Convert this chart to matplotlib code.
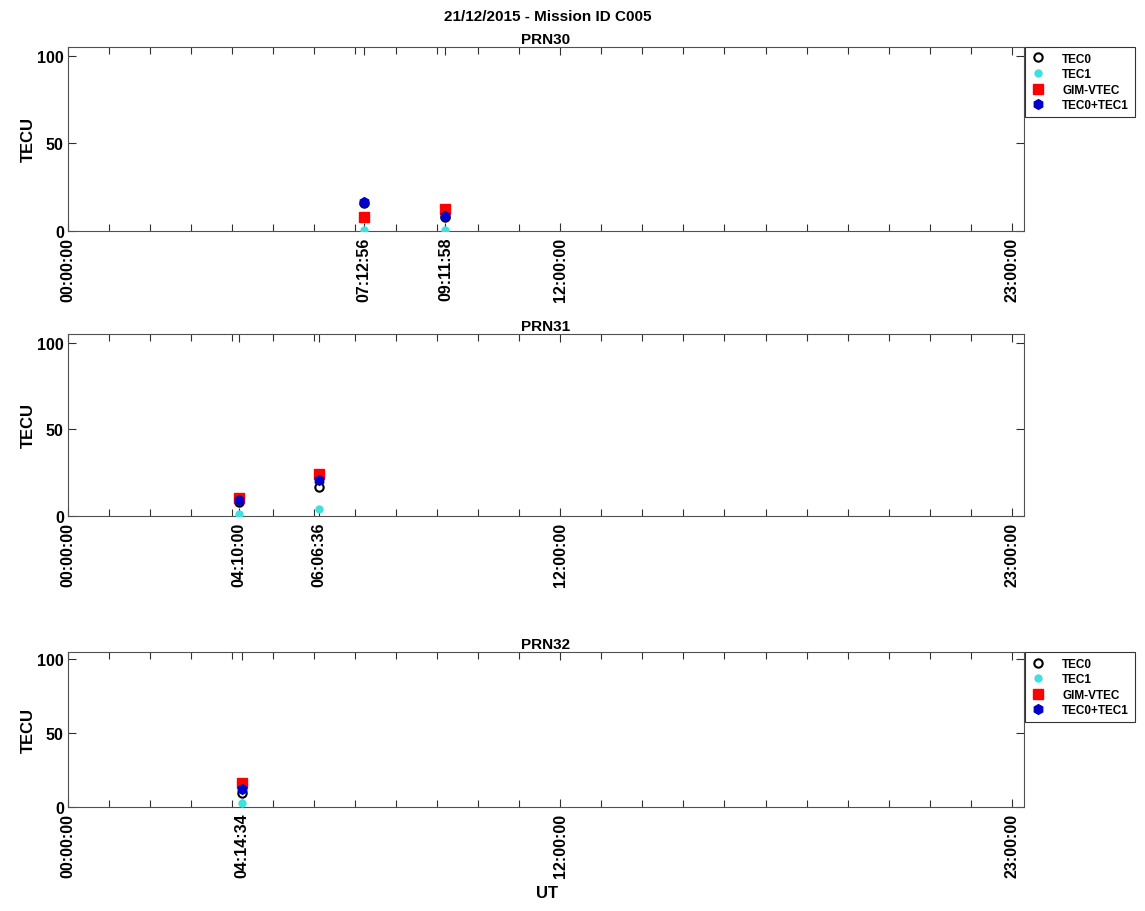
import matplotlib
matplotlib.use("Agg")
import matplotlib.pyplot as plt
from matplotlib.ticker import FixedLocator

plt.rcParams['font.family'] = ['Liberation Sans', 'DejaVu Sans']
plt.rcParams['font.weight'] = 'bold'

# Data (hours UT as "HH:MM:SS")
prn_names = ["PRN30", "PRN31", "PRN32"]
times = [["07:12:56", "09:11:58"], ["04:10:00", "06:06:36"], ["04:14:34"]]
tec0 = [[16, 8], [8, 17], [9.5]]
tec1 = [[0.5, 0.5], [1, 4], [2.5]]
gim_vtec = [[8, 12.5], [10.5, 24], [16]]
tec_sum = [[16.5, 8.5], [9, 21], [12]]
fixed_labels = ["00:00:00", "12:00:00", "23:00:00"]
legend_panels = [0, 2]


def to_h(s):
    h, m, sec = [int(v) for v in s.split(":")]
    return h + m / 60 + sec / 3600


fig = plt.figure(figsize=(11.45, 9.12), dpi=100)
L = 68 / 1145
W = (1024 - 68) / 1145
rects = [(232, 48), (517, 335), (808, 653)]

for i, (bot, top) in enumerate(rects):
    ax = fig.add_axes([L, 1 - bot / 912, W, (bot - top) / 912])
    x = [to_h(t) for t in times[i]]
    ax.plot(x, tec0[i], 'o', mfc='none', mec='black', mew=1.5, ms=6, label='TEC0', zorder=3)
    ax.plot(x, tec1[i], 'o', color='#40e0e0', ms=5, label='TEC1', zorder=3)
    ax.plot(x, gim_vtec[i], 's', color='#ff0000', ms=7, label='GIM-VTEC', zorder=4)
    ax.plot(x, tec_sum[i], 'h', color='#0000c8', ms=7, label='TEC0+TEC1', zorder=5)
    ax.set_xlim(0, 23.3)
    ax.set_ylim(0, 105)
    labs = sorted(fixed_labels + times[i], key=to_h)
    ax.set_xticks([to_h(t) for t in labs])
    ax.set_xticklabels(labs, rotation=90, fontsize=11.5, fontweight='bold')
    ax.xaxis.set_minor_locator(FixedLocator(list(range(0, 24))))
    ax.set_yticks([0, 50, 100])
    ax.set_yticklabels(['0', '50', '100'], fontsize=11.5, fontweight='bold')
    ax.tick_params(axis='both', which='both', direction='in', top=True, right=True,
                   color='#303030', width=0.8)
    ax.tick_params(axis='x', which='major', length=6, pad=4)
    ax.tick_params(axis='x', which='minor', length=5)
    ax.tick_params(axis='y', length=6, pad=3)
    for s in ax.spines.values():
        s.set_color('#505050')
        s.set_linewidth(0.8)
    ax.set_ylabel('TECU', fontsize=12, fontweight='bold', labelpad=1)
    ax.set_title(prn_names[i], fontsize=11, fontweight='bold', pad=3)
    if i in legend_panels:
        leg = ax.legend(loc='upper left', bbox_to_anchor=(1.0, 1.005), fontsize=8.5,
                        frameon=True, fancybox=False, edgecolor='black',
                        borderpad=0.45, labelspacing=0.3, handlelength=1.2,
                        handletextpad=1.5, borderaxespad=0.1)
        leg.get_frame().set_linewidth(0.8)
        for t in leg.get_texts():
            t.set_fontweight('bold')

fig.text(548 / 1145, 1 - 17 / 912, '21/12/2015 - Mission ID C005', ha='center', va='center',
         fontsize=11, fontweight='bold')
fig.text(547 / 1145, 1 - 894 / 912, 'UT', ha='center', va='center',
         fontsize=12, fontweight='bold')

fig.savefig('out.png', dpi=100)
